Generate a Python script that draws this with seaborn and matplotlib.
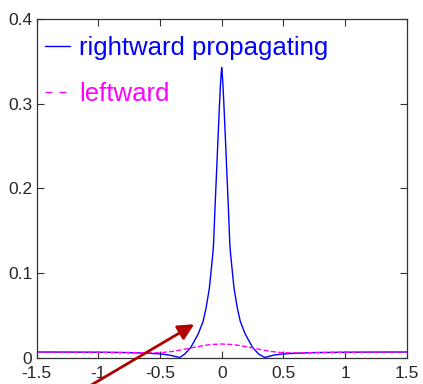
from matplotlib import pyplot as plt
import pandas as pd
import seaborn as sns

# values
x_right = [-1.5, -1.25, -1.0, -0.75, -0.6, -0.5, -0.42, -0.34, -0.3, -0.25,
           -0.19, -0.15, -0.126, -0.1, -0.088, -0.071, -0.065, -0.06, -0.053,
           -0.045, -0.039, -0.03, -0.02, -0.015, -0.01, -0.005, 0.0,
           0.005, 0.01, 0.015, 0.02, 0.03, 0.039, 0.045, 0.053, 0.06, 0.065,
           0.071, 0.088, 0.1, 0.126, 0.15, 0.19, 0.25, 0.3, 0.35, 0.42, 0.5,
           0.6, 0.75, 1.0, 1.25, 1.5]
y_right = [0.0065, 0.0064, 0.0062, 0.0058, 0.005, 0.0043, 0.0028, 0.0, 0.004, 0.012,
           0.028, 0.043, 0.059, 0.082, 0.099, 0.124, 0.137, 0.156, 0.181,
           0.208, 0.228, 0.259, 0.292, 0.308, 0.323, 0.334, 0.343,
           0.334, 0.323, 0.308, 0.292, 0.259, 0.228, 0.208, 0.181, 0.156, 0.137,
           0.124, 0.099, 0.082, 0.059, 0.043, 0.028, 0.012, 0.004, 0.0, 0.0028, 0.0043,
           0.005, 0.0058, 0.0062, 0.0064, 0.0065]

x_left = [-1.5, -1.0, -0.75, -0.6, -0.5, -0.4, -0.3, -0.2, -0.1, 0.0,
          0.1, 0.2, 0.3, 0.4, 0.5, 0.6, 0.75, 1.0, 1.5]
y_left = [0.0065, 0.0062, 0.0058, 0.0055, 0.0056, 0.0072, 0.0098, 0.0128, 0.0152, 0.016,
          0.0152, 0.0128, 0.0098, 0.0072, 0.0056, 0.0055, 0.0058, 0.0062, 0.0065]

x_ticks = [-1.5, -1, -0.5, 0, 0.5, 1, 1.5]
x_ticklabels = ["-1.5", "-1", "-0.5", "0", "0.5", "1", "1.5"]
y_ticks = [0, 0.1, 0.2, 0.3, 0.4]
y_ticklabels = ["0", "0.1", "0.2", "0.3", "0.4"]

right_df = pd.DataFrame({"x": x_right, "y": y_right})
left_df = pd.DataFrame({"x": x_left, "y": y_left})

# -----------------------------

sns.set_style("ticks", {"xtick.direction": "in", "ytick.direction": "in"})
plt.rcParams["font.family"] = ["Liberation Sans", "DejaVu Sans"]
plt.rcParams["axes.unicode_minus"] = False

fig = plt.figure(figsize=(4.23, 3.84), dpi=100)
ax = fig.add_axes([0.0865, 0.069, 0.8752, 0.8807])

sns.lineplot(data=right_df, x="x", y="y", ax=ax, color="#0000ff", lw=1.0,
             label="rightward propagating", sort=False)
sns.lineplot(data=left_df, x="x", y="y", ax=ax, color="#ff00ff", lw=1.0,
             linestyle="--", label="leftward", sort=False)

ax.set_xlim(-1.5, 1.5)
ax.set_ylim(0, 0.4)
ax.set_xticks(x_ticks)
ax.set_xticklabels(x_ticklabels)
ax.set_yticks(y_ticks)
ax.set_yticklabels(y_ticklabels)
ax.set_xlabel("")
ax.set_ylabel("")
ax.tick_params(labelsize=12.5, length=5, width=0.8, color="#333333",
               top=True, right=True, pad=3)
ax.tick_params(axis="x", pad=6)
for s in ax.spines.values():
    s.set_visible(True)
    s.set_linewidth(0.9)
    s.set_color("#333333")

leg = ax.legend(loc="upper left", bbox_to_anchor=(-0.02, 0.995), frameon=False,
                fontsize=18.5, handlelength=1.0, handletextpad=0.35,
                labelspacing=0.85, borderaxespad=0.2, labelcolor="linecolor")
leg.get_lines()[1].set_dashes((5, 5))

# arrow coming in from below the axes
ax.annotate("", xy=(-0.203, 0.041), xycoords="data",
            xytext=(80 / 423, -0.02), textcoords="figure fraction",
            arrowprops=dict(arrowstyle="-|>", color="#b00000", lw=2,
                            mutation_scale=24),
            annotation_clip=False)

path = "out.png"
plt.savefig(path, dpi=100)
print(f"Saved figure to {path}.")
plt.close()
